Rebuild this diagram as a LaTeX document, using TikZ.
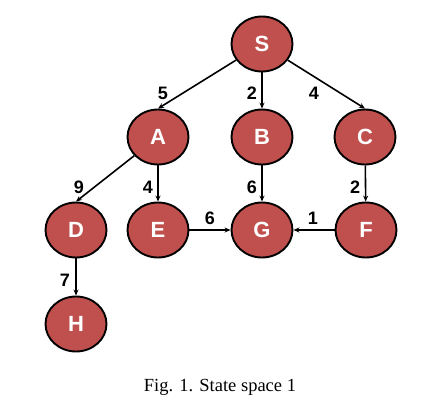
\documentclass[tikz,border=0pt]{standalone}
\usepackage{fontspec}
\setmainfont{Liberation Serif}
\setsansfont{Liberation Sans}
\usetikzlibrary{shapes.geometric,arrows.meta}
\definecolor{nodered}{HTML}{C0504D}

\begin{document}
\begin{tikzpicture}[x=1pt,y=-1pt]
    \useasboundingbox (0,0) rectangle (444,410);

    \tikzstyle{state}=[ellipse,draw,line width=1.9pt,fill=nodered,text=white,
                       minimum width=61pt,minimum height=55pt,inner sep=0pt,
                       font=\sffamily\bfseries\fontsize{22}{22}\selectfont]
    \tikzstyle{cost}=[font=\sffamily\bfseries\fontsize{18}{18}\selectfont]
    \tikzstyle{edge}=[line width=1.6pt,-{Stealth[length=6pt,width=5pt]}]

    % Draw states
    \node [state] (S) at (262,44) {S};
    \node [state] (A) at (158,137) {A};
    \node [state] (B) at (262,137) {B};
    \node [state] (C) at (365,137) {C};
    \node [state] (D) at (76,230) {D};
    \node [state] (E) at (158,230) {E};
    \node [state] (G) at (262,230) {G};
    \node [state] (F) at (366,230) {F};
    \node [state] (H) at (76,324) {H};

    % Draw transitions
    \draw [edge] (S) -- (A.north);
    \draw [edge] (S) -- (B);
    \draw [edge] (S) -- (C.north);
    \draw [edge] (A) -- (D.north);
    \draw [edge] (A) -- (E);
    \draw [edge] (B) -- (G);
    \draw [edge] (C) -- (F);
    \draw [edge] (E) -- (G);
    \draw [edge] (F) -- (G);
    \draw [edge] (D) -- (H);

    % Costs
    \node [cost] (cSA) at (163,93) {5};
    \node [cost] (cSB) at (252,93) {2};
    \node [cost] (cSC) at (314,93) {4};
    \node [cost] (cAD) at (79,187) {9};
    \node [cost] (cAE) at (148,187) {4};
    \node [cost] (cBG) at (252,187) {6};
    \node [cost] (cCF) at (355,187) {2};
    \node [cost] (cEG) at (210,218) {6};
    \node [cost] (cFG) at (313,218) {1};
    \node [cost] (cDH) at (65,280) {7};

    % Caption
    \node [anchor=base,font=\fontsize{18.5}{18.5}\selectfont] (caption) at (220,391)
          {Fig. 1. State space 1};
\end{tikzpicture}
\end{document}
